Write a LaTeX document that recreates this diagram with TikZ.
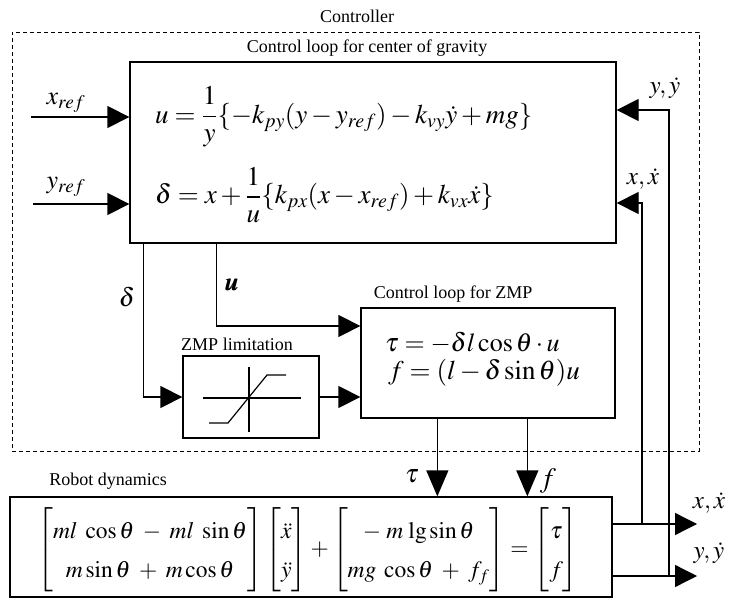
\documentclass[tikz,border=0pt]{standalone}
\usepackage{amsmath}
\usepackage{mathptmx}
\usepackage[no-math]{fontspec}
\setmainfont{Liberation Serif}
\usetikzlibrary{arrows.meta}
\begin{document}
\begin{tikzpicture}[x=1pt,y=-1pt,
  box/.style={draw, line width=1.3pt, inner sep=0pt},
  flow/.style={line width=1.3pt, -{Triangle[length=22pt,width=22pt]}},
  flowdown/.style={line width=1.3pt, -{Triangle[length=26pt,width=22pt]}},
  plain/.style={line width=1.2pt},
  lbl/.style={font=\fontsize{18}{21}\selectfont, inner sep=0pt},
  eq/.style={font=\fontsize{27}{31}\selectfont, inner sep=0pt, anchor=west},
  sig/.style={font=\fontsize{26}{30}\selectfont, inner sep=0pt}]
\useasboundingbox (0,0) rectangle (730,601);
% boxes
\node[draw, line width=0.8pt, dash pattern=on 4pt off 3pt, minimum width=687pt, minimum height=419pt, inner sep=0pt] (ctrl) at (355.5,241.5) {};
\node[box, minimum width=486pt, minimum height=181pt] (cog) at (373,152.5) {};
\node[box, minimum width=254pt, minimum height=110pt] (zmp) at (488,363) {};
\node[box, minimum width=136pt, minimum height=82pt] (lim) at (251,397) {};
\node[box, minimum width=602pt, minimum height=100pt] (rob) at (311,547) {};
% titles
\node[lbl] (tctrl) at (357,16) {Controller};
\node[lbl] (tcog) at (367,48) {Control loop for center of gravity};
\node[lbl] (tzmp) at (453,294) {Control loop for ZMP};
\node[lbl] (tlim) at (237,344) {ZMP limitation};
\node[lbl] (trob) at (108,481) {Robot dynamics};
% equations
\node[eq] (equ) at (155,117) {$u=\dfrac{1}{y}\{-k_{py}(y-y_{ref})-k_{vy}\dot{y}+mg\}$};
\node[eq] (eqd) at (155,195) {$\delta=x+\dfrac{1}{u}\{k_{px}(x-x_{ref})+k_{vx}\dot{x}\}$};
\node[eq, font=\fontsize{26}{30}\selectfont] (eqt) at (385,343) {$\tau=-\delta l\cos\theta\cdot u$};
\node[eq] (eqf) at (388,373) {$f=(l-\delta\sin\theta)u$};
\node[font=\fontsize{23.5}{28}\selectfont, inner sep=0pt] (eqr) at (308,550) {\renewcommand{\arraystretch}{1.4}$\begin{bmatrix} ml\;\cos\theta\;-\;ml\;\sin\theta\\ m\sin\theta\;+\;m\cos\theta\end{bmatrix}\begin{bmatrix}\ddot{x}\\ \ddot{y}\end{bmatrix}+\begin{bmatrix}-\;m\;\mathrm{lg}\sin\theta\\ mg\;\cos\theta\;+\;f_f\end{bmatrix}=\begin{bmatrix}\tau\\ f\end{bmatrix}$};
% signal labels
\node[sig] (lxr) at (66,103) {$x_{ref}$};
\node[sig] (lyr) at (66,187) {$y_{ref}$};
\node[sig, font=\fontsize{25}{29}\selectfont] (lyy) at (665,88) {$y,\dot{y}$};
\node[sig, font=\fontsize{25}{29}\selectfont] (lxx) at (643,179) {$x,\dot{x}$};
\node[sig] (ld) at (127,297) {$\delta$};
\node[sig] (lu) at (232,285) {$\pmb{u}$};
\node[sig] (ltau) at (412,476) {$\tau$};
\node[sig, font=\fontsize{28}{32}\selectfont] (lf) at (548,481) {$f$};
\node[sig, font=\fontsize{25}{29}\selectfont] (lxo) at (709,503) {$x,\dot{x}$};
\node[sig, font=\fontsize{25}{29}\selectfont] (lyo) at (709,553) {$y,\dot{y}$};
% saturation symbol
\draw[plain] (203,398) -- (301,398);
\draw[plain] (249,367) -- (249,432);
\draw[plain] (209,423) -- (228,423) -- (267,375) -- (286,375);
% connectors
\coordinate (xin) at (31,117);
\coordinate (yin) at (33,204);
\draw[flow] (xin) -- (xin -| cog.west);
\draw[flow] (yin) -- (yin -| cog.west);
\draw[flow] ([xshift=14pt]cog.south west) |- (lim.west);
\draw[flow] ([xshift=87pt]cog.south west) |- ([yshift=37pt]zmp.west);
\draw[flow] (lim.east) -- (lim.east -| zmp.west);
\coordinate (ttop) at ([xshift=77pt]zmp.south west);
\coordinate (ftop) at ([xshift=167pt]zmp.south west);
\draw[flowdown] (ttop) -- (ttop |- rob.north);
\draw[flowdown] (ftop) -- (ftop |- rob.north);
\coordinate (xo) at (697,524);
\coordinate (yo) at (697,576);
\draw[flow] (xo -| rob.east) -- (xo);
\draw[flow] (yo -| rob.east) -- (yo);
\coordinate (fbx) at (642,524);
\coordinate (fby) at (669,576);
\draw[flow] (fbx) |- ([yshift=-50.5pt]cog.east);
\draw[flow] (fby) |- ([yshift=42.5pt]cog.east);
\end{tikzpicture}
\end{document}
